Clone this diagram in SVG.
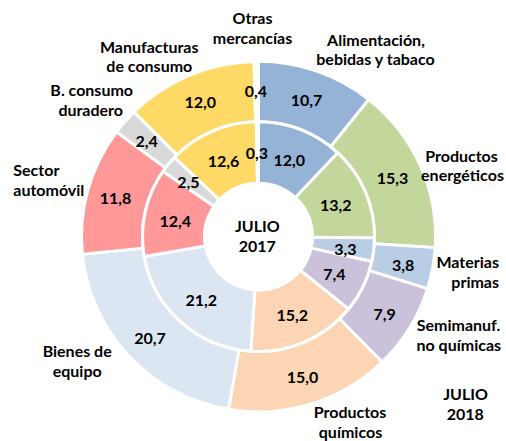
<svg xmlns="http://www.w3.org/2000/svg" width="506" height="441" viewBox="0 0 506 441">
<style>
.s { stroke:#fff; stroke-width:3; stroke-linejoin:miter; }
.t { font-family: Lato, "Liberation Sans", sans-serif; font-weight:700; font-size:16px; fill:#000; text-anchor:middle; }
.l { text-anchor:start; }
.r { text-anchor:end; }
</style>
<rect width="506" height="441" fill="#fff"/>
<g id="connectors"/>

<g id="alimentacion" transform="translate(258.5 236.6) scale(1 0.99)">
  <path class="s" fill="#95B3D7" d="M0,-177 A177,177 0 0 1 110.24,-138.48 L72.24,-90.76 A116,116 0 0 0 0,-116 Z"/>
  <path class="s" fill="#95B3D7" d="M0,-116 A116,116 0 0 1 79.33,-84.64 L36.93,-39.40 A54,54 0 0 0 0,-54 Z"/>
</g>
<g id="energeticos" transform="translate(258.5 236.6) scale(1 0.99)">
  <path class="s" fill="#C3D69B" d="M110.24,-138.48 A177,177 0 0 1 176.65,11.12 L115.77,7.28 A116,116 0 0 0 72.24,-90.76 Z"/>
  <path class="s" fill="#C3D69B" d="M79.33,-84.64 A116,116 0 0 1 115.99,1.28 L54.00,0.59 A54,54 0 0 0 36.93,-39.40 Z"/>
</g>
<g id="materias" transform="translate(258.5 236.6) scale(1 0.99)">
  <path class="s" fill="#B9CDE5" d="M176.65,11.12 A177,177 0 0 1 169.02,52.57 L110.77,34.45 A116,116 0 0 0 115.77,7.28 Z"/>
  <path class="s" fill="#B9CDE5" d="M115.99,1.28 A116,116 0 0 1 113.25,25.10 L52.72,11.69 A54,54 0 0 0 54.00,0.59 Z"/>
</g>
<g id="semimanufacturas" transform="translate(258.5 236.6) scale(1 0.99)">
  <path class="s" fill="#CCC1DA" d="M169.02,52.57 A177,177 0 0 1 123.56,126.73 L80.98,83.06 A116,116 0 0 0 110.77,34.45 Z"/>
  <path class="s" fill="#CCC1DA" d="M113.25,25.10 A116,116 0 0 1 90.00,73.18 L41.90,34.06 A54,54 0 0 0 52.72,11.69 Z"/>
</g>
<g id="quimicos" transform="translate(258.5 236.6) scale(1 0.99)">
  <path class="s" fill="#FCD5B5" d="M123.56,126.73 A177,177 0 0 1 -29.88,174.45 L-19.58,114.33 A116,116 0 0 0 80.98,83.06 Z"/>
  <path class="s" fill="#FCD5B5" d="M90.00,73.18 A116,116 0 0 1 -7.64,115.74 L-3.56,53.88 A54,54 0 0 0 41.90,34.06 Z"/>
</g>
<g id="bienes-equipo" transform="translate(258.5 236.6) scale(1 0.99)">
  <path class="s" fill="#DCE6F2" d="M-29.88,174.45 A177,177 0 0 1 -176.12,17.77 L-115.42,11.65 A116,116 0 0 0 -19.58,114.33 Z"/>
  <path class="s" fill="#DCE6F2" d="M-7.64,115.74 A116,116 0 0 1 -114.25,20.10 L-53.18,9.36 A54,54 0 0 0 -3.56,53.88 Z"/>
</g>
<g id="automovil" transform="translate(258.5 236.6) scale(1 0.99)">
  <path class="s" fill="#FF9999" d="M-176.12,17.77 A177,177 0 0 1 -141.88,-105.83 L-92.99,-69.36 A116,116 0 0 0 -115.42,11.65 Z"/>
  <path class="s" fill="#FF9999" d="M-114.25,20.10 A116,116 0 0 1 -95.47,-65.90 L-44.44,-30.68 A54,54 0 0 0 -53.18,9.36 Z"/>
</g>
<g id="consumo-duradero" transform="translate(258.5 236.6) scale(1 0.99)">
  <path class="s" fill="#D9D9D9" d="M-141.88,-105.83 A177,177 0 0 1 -124.38,-125.94 L-81.51,-82.53 A116,116 0 0 0 -92.99,-69.36 Z"/>
  <path class="s" fill="#D9D9D9" d="M-95.47,-65.90 A116,116 0 0 1 -83.97,-80.03 L-39.09,-37.25 A54,54 0 0 0 -44.44,-30.68 Z"/>
</g>
<g id="manufacturas" transform="translate(258.5 236.6) scale(1 0.99)">
  <path class="s" fill="#FFD966" d="M-124.38,-125.94 A177,177 0 0 1 -4.45,-176.94 L-2.92,-115.96 A116,116 0 0 0 -81.51,-82.53 Z"/>
  <path class="s" fill="#FFD966" d="M-83.97,-80.03 A116,116 0 0 1 -2.19,-115.98 L-1.02,-53.99 A54,54 0 0 0 -39.09,-37.25 Z"/>
</g>
<g id="otras" transform="translate(258.5 236.6) scale(1 0.99)">
  <path class="s" fill="#FFFFFF" d="M-4.45,-176.94 A177,177 0 0 1 0,-177 L0,-116 A116,116 0 0 0 -2.92,-115.96 Z"/>
  <path class="s" fill="#FFFFFF" d="M-2.19,-115.98 A116,116 0 0 1 0,-116 L0,-54 A54,54 0 0 0 -1.02,-53.99 Z"/>
</g>

<g id="alimentacion-labels">
  <text class="t" x="306.5" y="106">10,7</text>
  <text class="t" x="289.2" y="165.7">12,0</text>
  <text class="t" x="376" y="46">Alimentación,</text>
  <text class="t" x="375.5" y="65.3">bebidas y tabaco</text>
</g>
<g id="energeticos-labels">
  <text class="t" x="392.5" y="184">15,3</text>
  <text class="t" x="335.8" y="210.7">13,2</text>
  <text class="t" x="461.5" y="161.7">Productos</text>
  <text class="t" x="462.5" y="181">energéticos</text>
</g>
<g id="materias-labels">
  <text class="t" x="403.2" y="270.7">3,8</text>
  <text class="t" x="345.5" y="255">3,3</text>
  <text class="t r" x="499" y="268.3">Materias</text>
  <text class="t r" x="499" y="288.3">primas</text>
</g>
<g id="semimanufacturas-labels">
  <text class="t" x="384.7" y="320">7,9</text>
  <text class="t" x="334.5" y="280">7,4</text>
  <text class="t" x="458.5" y="330.7">Semimanuf.</text>
  <text class="t" x="458.8" y="350.7">no químicas</text>
</g>
<g id="quimicos-labels">
  <text class="t" x="302.5" y="382.7">15,0</text>
  <text class="t" x="292.2" y="321">15,2</text>
  <text class="t" x="350" y="418.3">Productos</text>
  <text class="t" x="350.5" y="437.7">químicos</text>
</g>
<g id="bienes-equipo-labels">
  <text class="t" x="150" y="344.3">20,7</text>
  <text class="t" x="201.2" y="306">21,2</text>
  <text class="t" x="77.2" y="356.7">Bienes de</text>
  <text class="t" x="77.2" y="376.7">equipo</text>
</g>
<g id="automovil-labels">
  <text class="t" x="115.5" y="204.3">11,8</text>
  <text class="t" x="175.2" y="226.7">12,4</text>
  <text class="t l" x="13.3" y="176">Sector</text>
  <text class="t l" x="13.3" y="196">automóvil</text>
</g>
<g id="consumo-duradero-labels">
  <text class="t" x="146.7" y="146.7">2,4</text>
  <text class="t" x="188.3" y="188.3">2,5</text>
  <text class="t" x="91.7" y="96">B. consumo</text>
  <text class="t" x="90.7" y="115.7">duradero</text>
</g>
<g id="manufacturas-labels">
  <text class="t" x="200.3" y="108.3">12,0</text>
  <text class="t" x="223.5" y="166.7">12,6</text>
  <text class="t" x="149.2" y="52.7">Manufacturas</text>
  <text class="t" x="149.3" y="71.7">de consumo</text>
</g>
<g id="otras-labels">
  <text class="t" x="255.8" y="97.3">0,4</text>
  <text class="t" x="257" y="159.3">0,3</text>
  <text class="t" x="252.5" y="24">Otras</text>
  <text class="t" x="252.5" y="44">mercancías</text>
</g>
<g id="centro-2017">
  <text class="t" x="257.3" y="231.7">JULIO</text>
  <text class="t" x="257.3" y="251.7">2017</text>
</g>
<g id="etiqueta-2018">
  <text class="t" x="465.5" y="400">JULIO</text>
  <text class="t" x="465.3" y="420">2018</text>
</g>
</svg>
